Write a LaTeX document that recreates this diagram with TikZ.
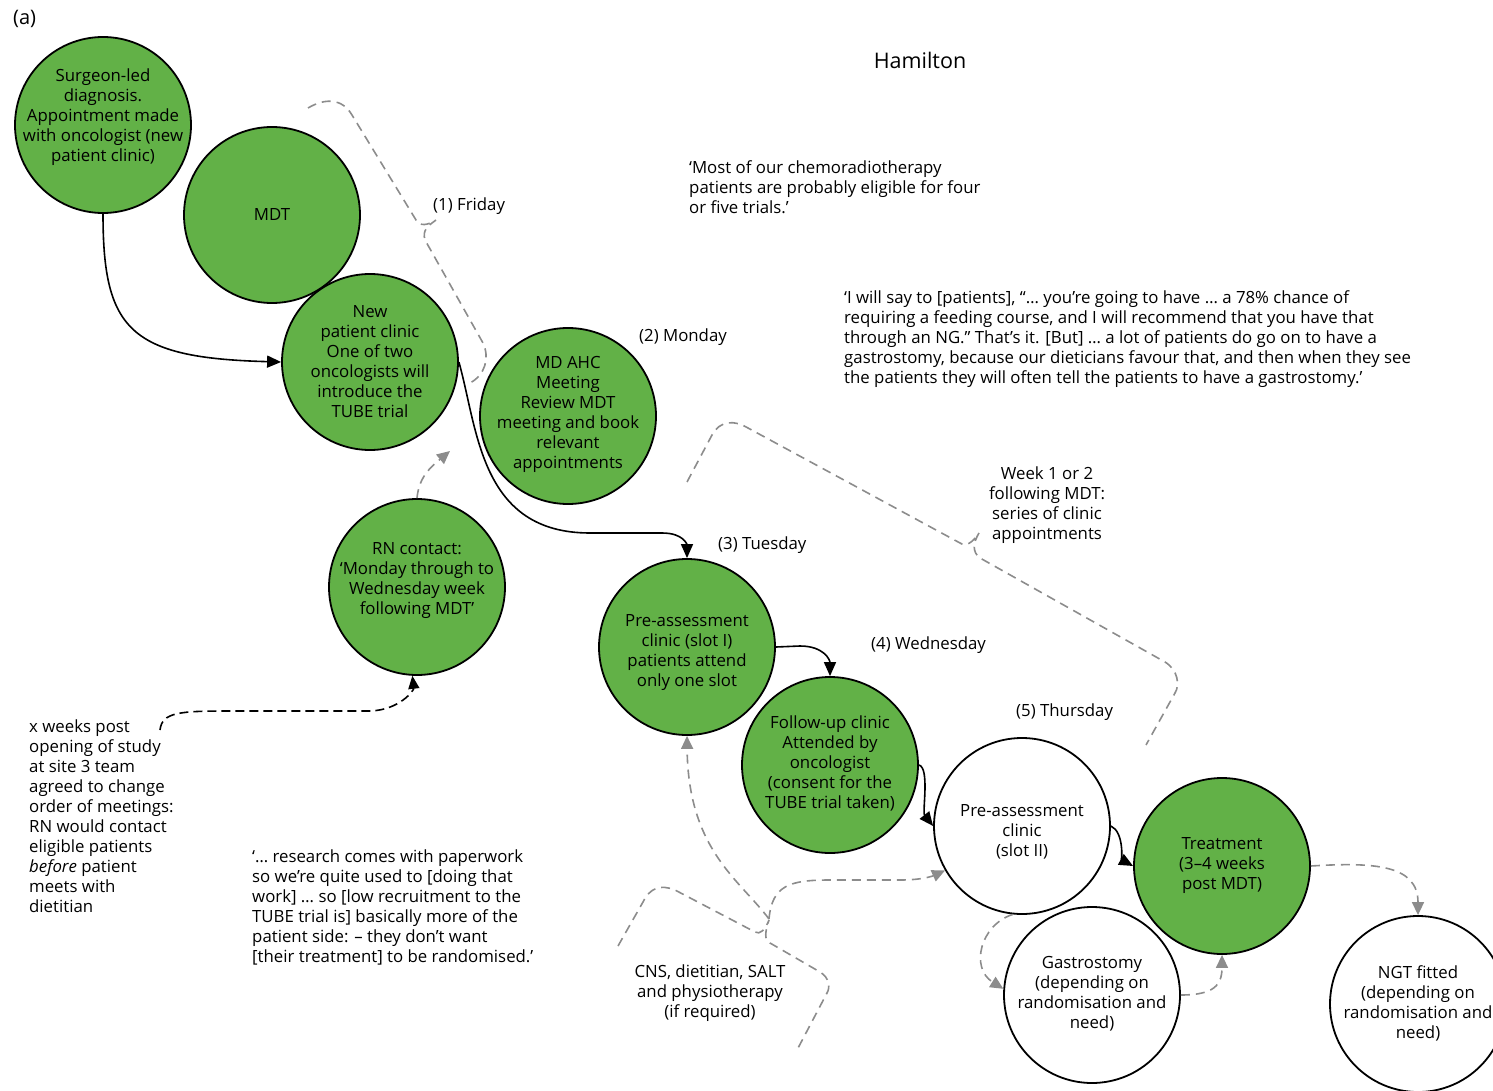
\documentclass[tikz,border=0pt]{standalone}
\usepackage{fontspec}
\setmainfont{Open Sans}
\usetikzlibrary{arrows.meta}
\definecolor{cgreen}{RGB}{98,177,71}
\definecolor{cgray}{RGB}{140,140,140}
\begin{document}
\begin{tikzpicture}[x=1pt,y=-1pt,
  every node/.style={font=\fontsize{16.8}{20}\selectfont, inner sep=0pt},
  gcirc/.style={circle, draw=black, line width=1.8pt, fill=cgreen, minimum size=176pt},
  wcirc/.style={circle, draw=black, line width=1.8pt, fill=white, minimum size=176pt},
  ctext/.style={align=center},
  blk/.style={draw=black, line width=1.6pt, -{Triangle[length=14pt,width=12pt]}},
  blkdash/.style={draw=black, line width=1.6pt, dash pattern=on 9pt off 5pt, -{Triangle[length=13pt,width=11pt]}},
  gdash/.style={draw=cgray, line width=1.6pt, dash pattern=on 9pt off 6pt},
  garr/.style={gdash, -{Triangle[length=13pt,width=12pt]}},
  lbl/.style={anchor=west, align=left}
]
\useasboundingbox (0,0) rectangle (1493,1091);

% circles
\node[gcirc] (surg) at (103,125) {};
\node[gcirc] (mdt) at (272,215) {};
\node[gcirc] (npc) at (370,362) {};
\node[gcirc] (mdahc) at (568,416) {};
\node[gcirc] (rn) at (417,587) {};
\node[gcirc] (psI) at (687,647) {};
\node[gcirc] (fu) at (830,765) {};
\node[wcirc] (psII) at (1022,826) {};
\node[gcirc] (trt) at (1222,866) {};
\node[wcirc] (gas) at (1092,995) {};
\node[wcirc] (ngt) at (1418,1004) {};

% circle texts
\node[ctext] (surgt) at (103,117) {Surgeon-led\\diagnosis.\\Appointment made\\with oncologist (new\\patient clinic)};
\node[ctext] (mdtt) at (272,215) {MDT};
\node[ctext] (npct) at (370,362) {New\\patient clinic\\One of two\\oncologists will\\introduce the\\TUBE trial};
\node[ctext] (mdahct) at (568,414) {MD AHC\\Meeting\\Review MDT\\meeting and book\\relevant\\appointments};
\node[ctext] (rnt) at (417,581) {RN contact:\\‘Monday through to\\Wednesday week\\following MDT’};
\node[ctext] (psIt) at (687,653) {Pre-assessment\\clinic (slot I)\\patients attend\\only one slot};
\node[ctext] (fut) at (830,763) {Follow-up clinic\\Attended by\\oncologist\\(consent for the\\TUBE trial taken)};
\node[ctext] (psIIt) at (1022,832) {Pre-assessment\\clinic\\(slot II)};
\node[ctext] (trtt) at (1222,866) {Treatment\\(3–4 weeks\\post MDT)};
\node[ctext] (gast) at (1092,994) {Gastrostomy\\(depending on\\randomisation and\\need)};
\node[ctext] (ngtt) at (1418,1003) {NGT fitted\\(depending on\\randomisation and\\need)};

% texts
\node[anchor=west, font=\fontsize{20}{22}\selectfont] (tA) at (13,19) {(a)};
\node[font=\fontsize{21.5}{24}\selectfont] (tHam) at (920,60) {Hamilton};
\node[lbl] (q1) at (689,187) {‘Most of our chemoradiotherapy\\patients are probably eligible for four\\or five trials.’};
\node[lbl] (q2) at (844,339) {‘I will say to [patients], “… you’re going to have … a 78\% chance of\\requiring a feeding course, and I will recommend that you have that\\through an NG.” That’s it. [But] … a lot of patients do go on to have a\\gastrostomy, because our dieticians favour that, and then when they see\\the patients they will often tell the patients to have a gastrostomy.’};
\node[align=center] (week) at (1047,505) {Week 1 or 2\\following MDT:\\series of clinic\\appointments};
\node[lbl] (xw) at (29,816) {x weeks post\\opening of study\\at site 3 team\\agreed to change\\order of meetings:\\RN would contact\\eligible patients\\\textit{before} patient\\meets with\\dietitian};
\node[lbl] (q3) at (252,907) {‘… research comes with paperwork\\so we’re quite used to [doing that\\work] … so [low recruitment to the\\TUBE trial is] basically more of the\\patient side: – they don’t want\\{}[their treatment] to be randomised.’};
\node[align=center] (cns) at (710,993) {CNS, dietitian, SALT\\and physiotherapy\\(if required)};
\node[lbl] (d1) at (433,206) {(1) Friday};
\node[lbl] (d2) at (639,337) {(2) Monday};
\node[lbl] (d3) at (718,545) {(3) Tuesday};
\node[lbl] (d4) at (871,645) {(4) Wednesday};
\node[lbl] (d5) at (1016,712) {(5) Thursday};

% coordinates
\coordinate (xwstart) at (160,730);
\coordinate (rnend) at (450,451);
\coordinate (cj) at (769,919);

% black arrows
\draw[blk] (surg.south) .. controls (103,330) and (130,358) .. (npc.west);
\draw[blk] (npc.east) .. controls (478,430) and (480,533) .. (590,533) -- (662,533) .. controls (684,533) and (687,545) .. (psI.north);
\draw[blk] (psI.east) -- (800,646) .. controls (824,646) and (830,660) .. (fu.north);
\draw[blk] (fu.east) .. controls (930,768) and (922,812) .. (psII.west);
\draw[blk] (psII.east) .. controls (1124,832) and (1122,860) .. (trt.west);
\draw[blkdash] (xwstart) .. controls (162,712) and (180,711) .. (230,711) -- (370,711) .. controls (400,710) and (414,690) .. (rn.267);

% gray arrows
\draw[garr] (rn.north) .. controls (419,476) and (432,466) .. (rnend);
\draw[garr] (cj) .. controls (740,880) and (688,850) .. (psI.south);
\draw[garr] (cj) .. controls (772,885) and (790,880) .. (830,880) -- (900,880) .. controls (925,880) and (935,875) .. (psII.210);
\draw[garr] (psII.264) .. controls (980,925) and (970,968) .. (gas.176);
\draw[garr] (gas.east) .. controls (1214,995) and (1222,985) .. (trt.south);
\draw[garr] (trt.east) .. controls (1375,862) and (1418,865) .. (ngt.north);

% braces
\draw[gdash] (308,108) .. controls (325,98) and (342,98) .. (352,115) -- (416,220) .. controls (420,227) and (428,225) .. (436,220) .. controls (428,226) and (422,230) .. (425,240) -- (483,343) .. controls (490,358) and (485,375) .. (470,383);
\draw[gdash] (687,482) -- (712,435) .. controls (720,420) and (735,420) .. (748,428) -- (960,543) .. controls (966,547) and (972,543) .. (979,533) .. controls (973,543) and (972,552) .. (980,558) -- (1165,662) .. controls (1178,670) and (1180,685) .. (1175,693) -- (1146,745);
\draw[gdash] (618,946) -- (643,902) .. controls (650,888) and (660,884) .. (675,890) -- (755,932) .. controls (760,935) and (765,930) .. (769,920) .. controls (765,932) and (764,940) .. (770,943) -- (820,972) .. controls (830,978) and (830,988) .. (827,993) -- (797,1050);
\end{tikzpicture}
\end{document}
